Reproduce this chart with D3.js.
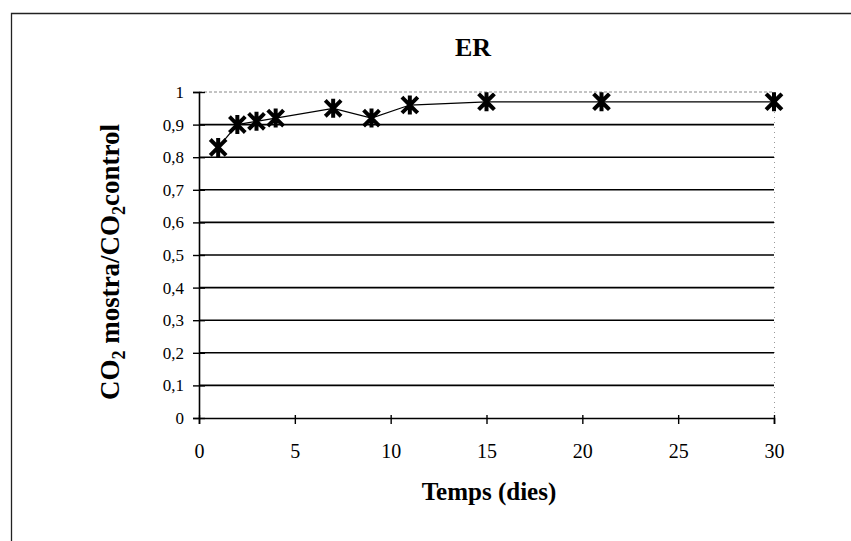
<!DOCTYPE html>
<html>
<head>
<meta charset="utf-8">
<script src="https://cdn.jsdelivr.net/npm/d3@7"></script>
<style>
  html, body { margin: 0; padding: 0; background: #fff; }
  svg { display: block; }
  text { font-family: "Liberation Serif", "Times New Roman", serif; fill: #000; }
</style>
</head>
<body>
<svg id="chart" width="851" height="541"></svg>
<script>
// Sample / control CO2 ratio over time
const days   = [1, 2, 3, 4, 7, 9, 11, 15, 21, 30];
const ratios = [0.83, 0.90, 0.91, 0.92, 0.95, 0.92, 0.96, 0.97, 0.97, 0.97];
const xTicks = [0, 5, 10, 15, 20, 25, 30];
const yTicks = [0, 0.1, 0.2, 0.3, 0.4, 0.5, 0.6, 0.7, 0.8, 0.9, 1];
const title = "ER";
const xTitle = "Temps (dies)";

const svg = d3.select("#chart");
const plot = { left: 199, right: 774, top: 92, bottom: 418 };

const x = d3.scaleLinear().domain([0, 30]).range([plot.left, plot.right]);
const y = d3.scaleLinear().domain([0, 1]).range([plot.bottom, plot.top]);
const fmt = d => String(d).replace(".", ",");

// outer frame (left and top edges)
svg.append("path")
  .attr("d", "M11.5,541 V13.5 H851")
  .attr("fill", "none").attr("stroke", "#222").attr("stroke-width", 1.3);

// horizontal gridlines
svg.append("g").selectAll("line")
  .data(yTicks.filter(d => d > 0))
  .join("line")
  .attr("x1", plot.left).attr("x2", plot.right)
  .attr("y1", d => y(d)).attr("y2", d => y(d))
  .attr("stroke", d => d === 1 ? "#888" : "#000")
  .attr("stroke-width", d => d === 1 ? 1 : 1.6)
  .attr("stroke-dasharray", d => d === 1 ? "3,2" : null);

// right edge of plot area
svg.append("line")
  .attr("x1", plot.right + 0.5).attr("x2", plot.right + 0.5)
  .attr("y1", plot.top).attr("y2", plot.bottom)
  .attr("stroke", "#999").attr("stroke-dasharray", "1,4");

// y axis
const yAxis = svg.append("g")
  .attr("transform", `translate(${plot.left},0)`)
  .call(d3.axisLeft(y).tickValues(yTicks).tickFormat(fmt).tickSize(6));
yAxis.attr("font-size", 17).attr("font-family", "Liberation Serif");
yAxis.select(".domain").attr("stroke", "#000").attr("stroke-width", 1.6);
yAxis.selectAll(".tick line").attr("x2", -6).attr("x1", 6).attr("stroke-width", 1.4);
yAxis.selectAll(".tick text").attr("x", -15);

// x axis
const xAxis = svg.append("g")
  .attr("transform", `translate(0,${plot.bottom})`)
  .call(d3.axisBottom(x).tickValues(xTicks).tickSize(6));
xAxis.attr("font-size", 20).attr("font-family", "Liberation Serif");
xAxis.select(".domain").attr("stroke", "#000").attr("stroke-width", 1.6);
xAxis.selectAll(".tick line").attr("y1", -3).attr("y2", 6).attr("stroke-width", 1.4);
xAxis.selectAll(".tick text").attr("y", 40).attr("dy", 0);

// series line
const pts = days.map((d, i) => [d, ratios[i]]);
svg.append("path")
  .datum(pts)
  .attr("fill", "none").attr("stroke", "#000").attr("stroke-width", 1.2)
  .attr("d", d3.line().x(d => x(d[0])).y(d => y(d[1])));

// star markers (X with a vertical bar)
const s = 6.5;
const marker = svg.append("g").selectAll("g").data(pts).join("g")
  .attr("transform", d => `translate(${x(d[0])},${y(d[1])})`);
marker.append("path")
  .attr("d", `M${-s},${-s} L${s},${s} M${-s},${s} L${s},${-s} M0,${-s - 1} V${s + 1}`)
  .attr("stroke", "#000").attr("stroke-width", 4).attr("stroke-linecap", "square");

// titles
svg.append("text")
  .attr("x", 473).attr("y", 56).attr("text-anchor", "middle")
  .style("font-size", "26px").style("font-weight", "bold").text(title);

svg.append("text")
  .attr("x", 489).attr("y", 500).attr("text-anchor", "middle")
  .style("font-size", "25px").style("font-weight", "bold").text(xTitle);

const yt = svg.append("text")
  .attr("transform", "translate(119,262) rotate(-90)")
  .attr("text-anchor", "middle")
  .style("font-size", "27px").style("font-weight", "bold");
yt.append("tspan").text("CO");
yt.append("tspan").attr("dy", 6).style("font-size", "18px").text("2");
yt.append("tspan").attr("dy", -6).text(" mostra/CO");
yt.append("tspan").attr("dy", 6).style("font-size", "18px").text("2");
yt.append("tspan").attr("dy", -6).text("control");
</script>
</body>
</html>
